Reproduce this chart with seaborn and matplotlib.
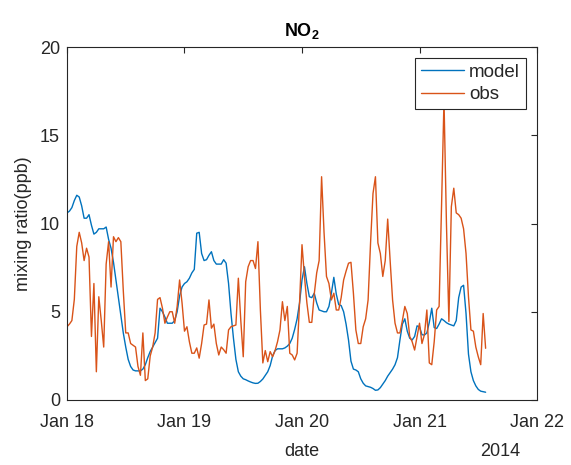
import numpy as np
import pandas as pd
import matplotlib
matplotlib.use("Agg")
import matplotlib.pyplot as plt
import matplotlib.dates as mdates
import seaborn as sns

# Half-hourly NO2 mixing ratios (ppb), starting 2014-01-18 00:00
start_time = "2014-01-18 00:00"
step = "30min"

model = [
    10.6, 10.7, 10.9, 11.3, 11.6, 11.5, 11.0, 10.3, 10.3, 10.5,
    9.9, 9.4, 9.5, 9.7, 9.7, 9.7, 9.8, 9.1, 8.6, 7.8,
    6.8, 5.8, 4.8, 3.8, 3.0, 2.3, 1.9, 1.7, 1.65, 1.65,
    1.65, 1.75, 2.0, 2.4, 2.75, 3.0, 3.25, 3.5, 5.2, 5.0,
    4.7, 4.35, 4.35, 4.35, 4.5, 5.0, 5.9, 6.4, 6.6, 6.7,
    6.9, 7.2, 7.4, 9.45, 9.5, 8.3, 7.9, 7.95, 8.2, 8.4,
    7.9, 7.7, 7.7, 7.7, 7.95, 7.75, 6.6, 4.9, 3.5, 2.3,
    1.6, 1.35, 1.2, 1.15, 1.08, 1.02, 0.97, 0.94, 0.95, 1.05,
    1.19, 1.4, 1.6, 1.95, 2.5, 2.8, 2.9, 2.9, 2.9, 2.95,
    3.05, 3.2, 3.5, 4.0, 4.6, 5.5, 6.8, 7.55, 6.6, 5.85,
    5.8, 6.05, 5.5, 5.1, 5.05, 5.0, 5.0, 5.3, 6.05, 6.95,
    6.0, 5.4, 5.35, 5.0, 4.3, 3.4, 2.2, 1.75, 1.7, 1.6,
    1.2, 0.95, 0.8, 0.76, 0.72, 0.65, 0.55, 0.57, 0.7, 0.9,
    1.1, 1.35, 1.55, 1.75, 2.0, 2.4, 3.4, 4.3, 4.6, 3.9,
    3.5, 3.4, 3.6, 4.2, 4.15, 3.7, 3.68, 3.8, 4.4, 5.2,
    4.1, 4.05, 4.3, 4.6, 4.5, 4.38, 4.3, 4.25, 4.2, 4.5,
    5.8, 6.4, 6.5, 4.9, 2.6, 1.6, 1.1, 0.8, 0.6, 0.5,
    0.47, 0.44,
]

obs = [
    4.15, 4.3, 4.5, 5.7, 8.7, 9.5, 8.9, 7.9, 8.6, 8.1,
    3.6, 6.6, 1.6, 5.85, 4.5, 3.0, 7.7, 8.97, 6.4, 9.25,
    8.97, 9.2, 8.97, 6.2, 3.8, 3.8, 3.2, 3.1, 3.0, 1.9,
    1.4, 3.8, 1.1, 1.2, 2.5, 3.0, 3.8, 5.7, 5.8, 5.2,
    4.35, 4.7, 5.0, 5.0, 4.35, 5.3, 6.8, 5.5, 3.9, 4.15,
    3.3, 2.65, 2.65, 2.95, 2.37, 3.2, 4.25, 4.3, 5.67, 4.07,
    4.3, 3.2, 2.55, 3.0, 2.85, 2.65, 3.97, 4.15, 4.2, 4.25,
    6.9, 4.5, 2.45, 6.7, 7.55, 7.9, 7.9, 7.45, 8.97, 5.1,
    2.1, 2.8, 2.17, 2.74, 2.45, 2.8, 3.3, 3.97, 5.57, 4.5,
    5.3, 2.65, 2.55, 2.27, 2.65, 5.5, 8.8, 7.0, 5.5, 4.4,
    4.4, 6.0, 7.2, 7.9, 12.65, 9.5, 7.0, 6.6, 5.67, 6.05,
    5.1, 5.1, 5.8, 6.8, 7.3, 7.75, 7.8, 6.05, 3.97, 3.2,
    3.2, 4.15, 4.6, 5.67, 8.9, 11.7, 12.65, 8.9, 8.3, 7.0,
    7.9, 10.25, 7.9, 5.67, 4.35, 3.8, 3.8, 4.5, 5.3, 4.9,
    3.6, 3.3, 2.83, 3.6, 4.35, 3.2, 3.7, 5.1, 2.1, 2.0,
    3.3, 5.1, 5.3, 11.0, 17.0, 10.0, 4.45, 10.95, 12.0, 10.6,
    10.5, 10.3, 9.7, 8.3, 5.85, 3.97, 3.9, 3.0, 2.45, 2.0,
    4.9, 2.93,
]

series_names = ["model", "obs"]
series_colors = ["#0072BD", "#D95319"]
y_ticks = [0, 5, 10, 15, 20]
x_tick_days = ["2014-01-18", "2014-01-19", "2014-01-20", "2014-01-21", "2014-01-22"]

times = pd.date_range(start_time, periods=len(model), freq=step)
df = pd.DataFrame({
    "date": np.concatenate([times, times[:len(obs)]]),
    "value": model + obs,
    "series": [series_names[0]] * len(model) + [series_names[1]] * len(obs),
})

sns.set_theme(style="white")
plt.rcParams["font.family"] = ["Liberation Sans", "DejaVu Sans"]
plt.rcParams["mathtext.fontset"] = "custom"
plt.rcParams["mathtext.rm"] = "Liberation Sans"
plt.rcParams["mathtext.bf"] = "Liberation Sans:bold"

axis_color = "#262626"
fs = 13

fig = plt.figure(figsize=(5.71, 4.65), dpi=100)
ax = fig.add_axes([0.1173, 0.1398, 0.8232, 0.7591])

sns.lineplot(
    data=df, x="date", y="value", hue="series",
    palette=dict(zip(series_names, series_colors)),
    estimator=None, sort=False, linewidth=1.0, ax=ax,
)

ax.set_xlim(pd.Timestamp(x_tick_days[0]), pd.Timestamp(x_tick_days[-1]))
ax.set_ylim(y_ticks[0], y_ticks[-1])
ax.set_yticks(y_ticks)
ax.set_xticks([pd.Timestamp(d) for d in x_tick_days])
ax.xaxis.set_major_formatter(mdates.DateFormatter("%b %d"))

ax.tick_params(axis="both", which="both", direction="in", length=4,
               width=0.8, color=axis_color, labelcolor=axis_color,
               labelsize=fs, top=True, right=True)
ax.tick_params(axis="x", pad=10)
ax.tick_params(axis="y", pad=5)
for sp in ax.spines.values():
    sp.set_visible(True)
    sp.set_color(axis_color)
    sp.set_linewidth(0.8)

ax.set_xlabel("date", fontsize=fs, color=axis_color)
ax.xaxis.label.set_va("center")
ax.xaxis.set_label_coords(0.5, -0.147)
ax.set_ylabel("mixing ratio(ppb)", fontsize=fs, color=axis_color, labelpad=6)
ax.set_title(r"$\mathbf{NO_2}$", fontsize=fs, color="black", pad=8)

ax.text(0.921, -0.147, "2014", transform=ax.transAxes, ha="center", va="center",
        fontsize=fs, color=axis_color)

handles, labels = ax.get_legend_handles_labels()
leg = ax.legend(handles, labels, loc="upper right", fontsize=13.5,
                frameon=True, fancybox=False, framealpha=1.0,
                edgecolor=axis_color, borderaxespad=0.6,
                handlelength=2.3, handletextpad=0.3, labelspacing=0.28,
                borderpad=0.3)
leg.get_frame().set_linewidth(0.8)

fig.savefig("out.png", dpi=100, facecolor="white")
